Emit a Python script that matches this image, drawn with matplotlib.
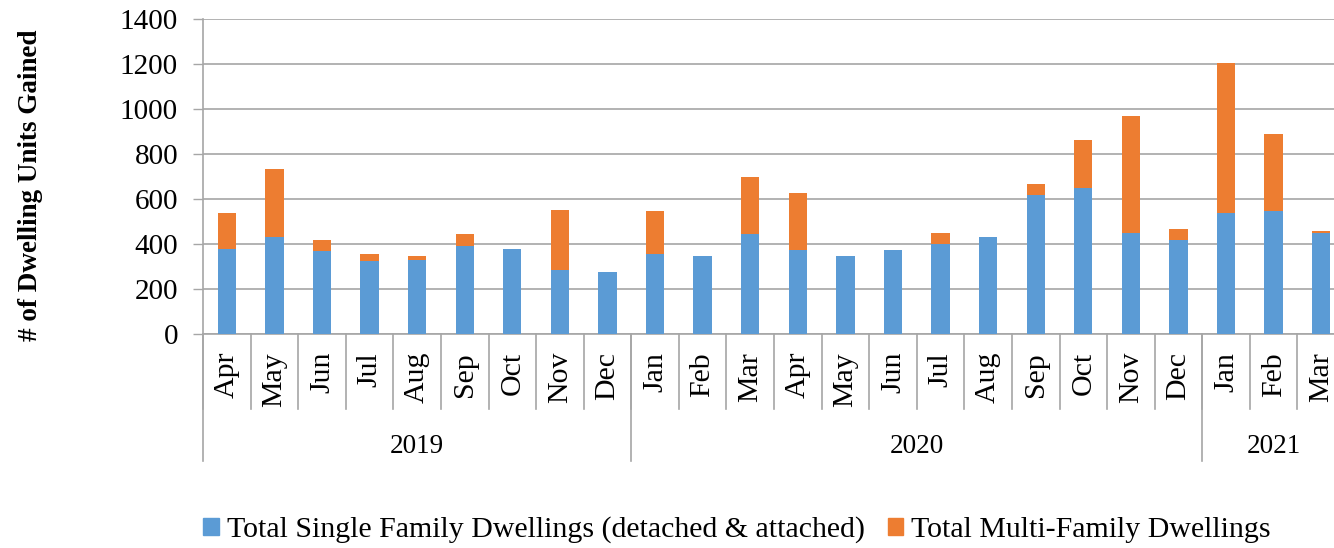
import numpy as np
import matplotlib
matplotlib.use("Agg")
import matplotlib.pyplot as plt
from matplotlib.patches import Patch
import matplotlib.transforms as mtransforms

months = ["Apr", "May", "Jun", "Jul", "Aug", "Sep", "Oct", "Nov", "Dec",
          "Jan", "Feb", "Mar", "Apr", "May", "Jun", "Jul", "Aug", "Sep", "Oct", "Nov", "Dec",
          "Jan", "Feb", "Mar"]
years = ["2019", "2020", "2021"]
year_counts = [9, 12, 3]

single_family = [380, 431, 369, 324, 332, 394, 380, 286, 278,
                 356, 348, 444, 376, 348, 375, 400, 431, 618, 649, 450, 419,
                 539, 548, 450]
multi_family = [158, 305, 50, 32, 16, 50, 0, 268, 0,
                192, 0, 255, 253, 0, 0, 50, 0, 50, 215, 522, 50,
                668, 341, 8]

blue = "#5B9BD5"
orange = "#ED7D31"
grid_c = "#A6A6A6"
serif = ["Liberation Serif", "DejaVu Serif"]

plt.rcParams["font.family"] = serif

fig = plt.figure(figsize=(13.34, 5.48), dpi=100)
ax = fig.add_axes([203 / 1334, 1 - 334.3 / 548, 1142 / 1334, 315 / 548])

x = np.arange(len(months))
ax.bar(x, single_family, width=0.385, color=blue, zorder=3)
ax.bar(x, multi_family, width=0.385, bottom=single_family, color=orange, zorder=3)

ax.set_xlim(-0.5, len(months) - 0.5)
ax.set_ylim(0, 1400)
ax.set_yticks(np.arange(0, 1401, 200))
ax.yaxis.grid(True, color=grid_c, linewidth=1.2, zorder=0)
ax.tick_params(axis="y", length=7, width=1, color=grid_c, pad=11, labelsize=21)
for lbl in ax.get_yticklabels():
    lbl.set_family(serif)
ax.set_xticks([])
for s in ["top", "right"]:
    ax.spines[s].set_visible(False)
ax.spines["left"].set_color(grid_c)
ax.spines["bottom"].set_color(grid_c)
ax.spines["left"].set_linewidth(1.2)
ax.spines["bottom"].set_linewidth(1.2)

# category axis: months and years
trans = mtransforms.blended_transform_factory(ax.transData, ax.transAxes)
for i, m in enumerate(months):
    ax.text(i, -0.056, m, rotation=90, ha="center", va="top", fontsize=21.5,
            transform=trans, clip_on=False)
for i in range(len(months) + 1):
    ax.plot([i - 0.5, i - 0.5], [0, -0.238], color=grid_c, lw=1.2,
            transform=trans, clip_on=False)

start = 0
for yr, n in zip(years, year_counts):
    ax.plot([start - 0.5, start - 0.5], [0, -0.403], color=grid_c, lw=1.2,
            transform=trans, clip_on=False)
    ax.text(start + (n - 1) / 2, -0.355, yr, ha="center", va="center", fontsize=19.5,
            transform=trans, clip_on=False)
    start += n
ax.plot([start - 0.5, start - 0.5], [0, -0.403], color=grid_c, lw=1.2,
        transform=trans, clip_on=False)

fig.text(0.0225, 1 - 185 / 548, "# of Dwelling Units Gained", rotation=90,
         ha="center", va="center", fontsize=19.5, fontweight="bold")

handles = [Patch(color=blue, label="Total Single Family Dwellings (detached & attached)"),
           Patch(color=orange, label="Total Multi-Family Dwellings")]
fig.legend(handles=handles, loc="center", bbox_to_anchor=(0.5525, 0.033), ncol=2,
           frameon=False, prop={"family": serif, "size": 21.5},
           handlelength=0.52, handleheight=0.52,
           handletextpad=0.28, columnspacing=0.76)

fig.savefig("out.png", dpi=100)
